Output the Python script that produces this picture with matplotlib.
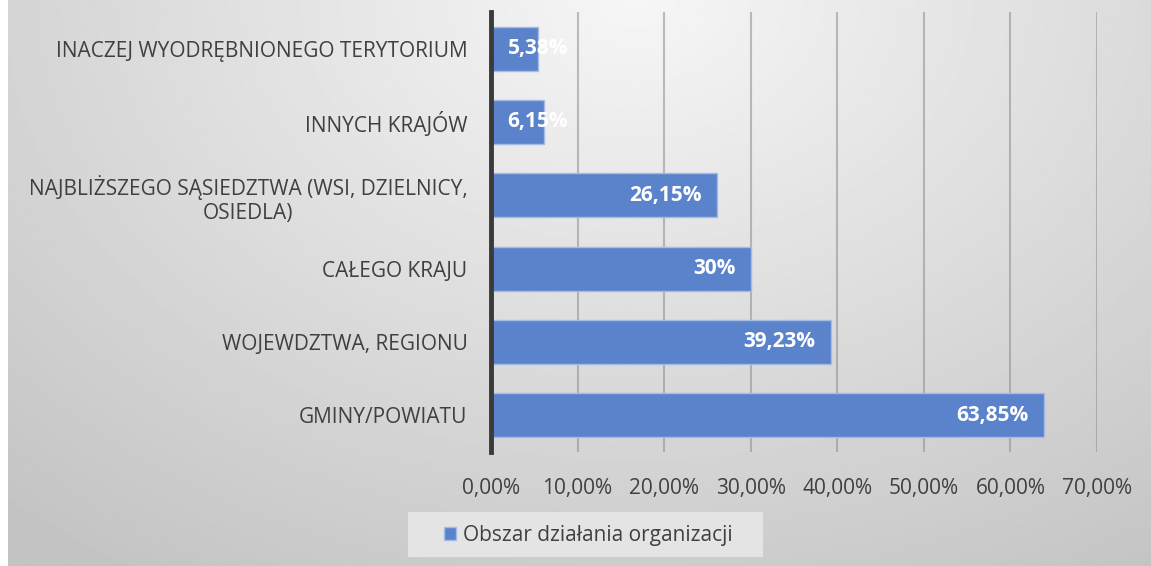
import numpy as np
import matplotlib.pyplot as plt
import matplotlib
from matplotlib.patches import Rectangle

matplotlib.rcParams["font.family"] = ["Open Sans", "DejaVu Sans"]

kategorie = ["GMINY/POWIATU", "WOJEWDZTWA, REGIONU", "CAŁEGO KRAJU",
             "NAJBLIŻSZEGO SĄSIEDZTWA (WSI, DZIELNICY,\nOSIEDLA)",
             "INNYCH KRAJÓW", "INACZEJ WYODRĘBNIONEGO TERYTORIUM"]
wartosci = [63.85, 39.23, 30.0, 26.15, 6.15, 5.38]
etykiety = ["63,85%", "39,23%", "30%", "26,15%", "6,15%", "5,38%"]
ticki = [0, 10, 20, 30, 40, 50, 60, 70]
nazwa_serii = "Obszar działania organizacji"

W, H = 1151, 566
fig = plt.figure(figsize=(W / 100, H / 100), dpi=100)
fig.patch.set_facecolor("white")

# tlo - gradient radialny (jasny u gory na srodku)
bg = fig.add_axes([8 / W, 0, 1 - 8 / W, 1], zorder=-10)
yy, xx = np.mgrid[0:1:300j, 0:1:600j]
r = np.sqrt(((xx - 0.55) / 0.75) ** 2 + (yy / 1.1) ** 2)
shade = 0.965 - 0.18 * np.clip(r, 0, 1.1)
bg.imshow(shade, cmap="gray", vmin=0, vmax=1, extent=[0, 1, 0, 1],
          aspect="auto", origin="upper")
bg.axis("off")

ax = fig.add_axes([491 / W, 1 - 452 / H, (1097 - 491) / W, (452 - 12) / H])
ax.patch.set_alpha(0)
y = np.arange(len(kategorie))
bars = ax.barh(y, wartosci, height=0.6, color="#5b83cc", edgecolor="#a4bbe3",
               linewidth=1, zorder=2, label=nazwa_serii)
for b, t in zip(bars, etykiety):
    w = b.get_width()
    yc = b.get_y() + b.get_height() / 2
    if w > 10:
        ax.text(w - 1.8, yc, t, ha="right", va="center", color="white",
                fontsize=15, fontweight="bold", zorder=4)
    else:
        ax.text(1.9, yc, t, ha="left", va="center", color="white",
                fontsize=15, fontweight="bold", zorder=4)

ax.set_xlim(0, 70)
ax.set_ylim(-0.5, 5.5)
ax.set_xticks(ticks=ticki, labels=[f"{v},00%" for v in ticki])
ax.set_yticks(y, kategorie, ha="right")
ax.tick_params(axis="both", length=0, colors="#404040", labelsize=15)
ax.tick_params(axis="x", pad=19)
ax.tick_params(axis="y", pad=17)
for lab in ax.get_yticklabels():
    lab.set_multialignment("center")
ax.grid(axis="x", color="#8c8c8c", linewidth=1.5, alpha=0.55, zorder=3)
for s in ["top", "right", "bottom"]:
    ax.spines[s].set_visible(False)
ax.spines["left"].set_color("#3a3a3a")
ax.spines["left"].set_linewidth(3.5)
ax.spines["left"].set_zorder(5)

# pole legendy
fig.patches.append(Rectangle((408 / W, 1 - 557 / H), (763 - 408) / W, 45 / H,
                             transform=fig.transFigure, facecolor="#e4e4e4",
                             edgecolor="none", zorder=1))
leg = fig.legend(loc="center", bbox_to_anchor=(588 / W, 1 - 535 / H),
                 frameon=False, fontsize=15, handlelength=0.6, handleheight=0.6,
                 handletextpad=0.3, borderpad=0, borderaxespad=0)
for t in leg.get_texts():
    t.set_color("#404040")

fig.savefig("out.png", dpi=100)
